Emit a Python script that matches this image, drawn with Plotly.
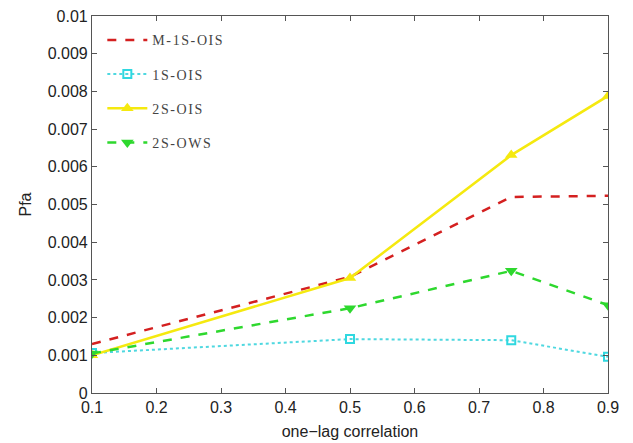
import plotly.graph_objects as go

x_vals = [0.1, 0.5, 0.75, 0.9]
m1s_ois = [0.00130, 0.00308, 0.00520, 0.00523]
s1_ois = [0.00106, 0.00143, 0.00140, 0.00096]
s2_ois = [0.00100, 0.00305, 0.00631, 0.00788]
s2_ows = [0.00105, 0.00225, 0.00324, 0.00233]

series_names = ["M-1S-OIS", "1S-OIS", "2S-OIS", "2S-OWS"]

x_ticks = [0.1, 0.2, 0.3, 0.4, 0.5, 0.6, 0.7, 0.8, 0.9]
y_ticks = [0, 0.001, 0.002, 0.003, 0.004, 0.005, 0.006, 0.007, 0.008, 0.009, 0.01]
y_labels = ["0", "0.001", "0.002", "0.003", "0.004", "0.005", "0.006", "0.007", "0.008", "0.009", "0.01"]


def spaced(name):
    return f'<span style="letter-spacing:1.6px">{name}</span>'


fig = go.Figure()
fig.add_trace(go.Scatter(x=x_vals, y=m1s_ois, name=spaced(series_names[0]), mode="lines",
                         line=dict(color="#d42020", width=2.5, dash="dash"), legendgroup="a"))
fig.add_trace(go.Scatter(x=x_vals, y=s1_ois, name=spaced(series_names[1]), mode="lines+markers",
                         line=dict(color="#4fd8e0", width=2, dash="dot"),
                         marker=dict(symbol="square-open", size=8, color="#2fd8e0", line=dict(width=2)),
                         legendgroup="b"))
fig.add_trace(go.Scatter(x=x_vals, y=s2_ois, name=spaced(series_names[2]), mode="lines+markers",
                         line=dict(color="#f5e90f", width=2.5),
                         marker=dict(symbol="triangle-up", size=11, color="#f5e90f"),
                         legendgroup="c"))
fig.add_trace(go.Scatter(x=x_vals, y=s2_ows, name=spaced(series_names[3]), mode="lines+markers",
                         line=dict(color="#2ed82e", width=2.5, dash="dash"),
                         marker=dict(symbol="triangle-down", size=11, color="#2ed82e"),
                         legendgroup="d"))

axis_common = dict(showline=True, linecolor="#555555", linewidth=1.2, mirror="ticks",
                   ticks="inside", ticklen=5, tickcolor="#555555", showgrid=False, zeroline=False,
                   automargin=False,
                   tickfont=dict(family="Liberation Sans, Arial", size=16, color="#222222"))

fig.update_layout(
    width=633, height=443,
    margin=dict(l=92, r=25, t=16, b=50),
    paper_bgcolor="white", plot_bgcolor="white",
    xaxis=dict(range=[0.1, 0.9], tickvals=x_ticks, ticktext=[f"{t:.1f}" for t in x_ticks],
               title=dict(text="one−lag correlation", font=dict(family="Liberation Sans, Arial", size=16, color="#222222"), standoff=10),
               **axis_common),
    yaxis=dict(range=[0, 0.01], tickvals=y_ticks, ticktext=y_labels,
               title=dict(text="Pfa", font=dict(family="Liberation Sans, Arial", size=16, color="#222222"), standoff=12),
               **axis_common),
    legend=dict(x=0.02, y=0.978, xanchor="left", yanchor="top", bgcolor="rgba(0,0,0,0)",
                font=dict(family="Liberation Serif, Times New Roman", size=14, color="#444444"),
                tracegroupgap=13, itemwidth=40),
    showlegend=True,
)

fig.write_html("out.html")
